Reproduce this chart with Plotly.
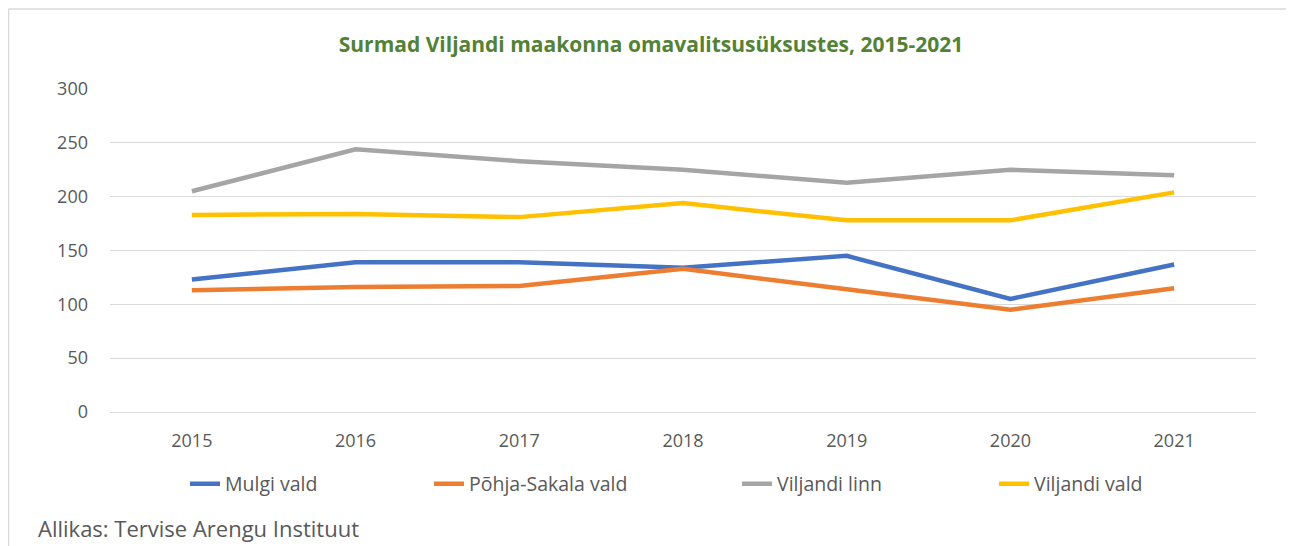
import plotly.graph_objects as go

years = ["2015", "2016", "2017", "2018", "2019", "2020", "2021"]
mulgi_vald = [123, 139, 139, 134, 145, 105, 137]
pohja_sakala_vald = [113, 116, 117, 133, 114, 95, 115]
viljandi_linn = [205, 244, 233, 225, 213, 225, 220]
viljandi_vald = [183, 184, 181, 194, 178, 178, 204]

series_names = ["Mulgi vald", "Põhja-Sakala vald", "Viljandi linn", "Viljandi vald"]
series_values = [mulgi_vald, pohja_sakala_vald, viljandi_linn, viljandi_vald]
colors = ["#4472C4", "#ED7D31", "#A5A5A5", "#FFC000"]
legend_ids = ["legend", "legend2", "legend3", "legend4"]

OFF = 8  # page body margin
W, H = 1294 - OFF, 546 - OFF
L, R, T, B = 102, 38, 81, 134
pw = W - L - R
ph = H - T - B

def px_x(px):
    return (px - OFF - L) / pw

def px_y(py):
    return (H - B - (py - OFF)) / ph

FONT = "Open Sans"
TXT = "#595959"

fig = go.Figure()
for name, vals, col, lg in zip(series_names, series_values, colors, legend_ids):
    fig.add_trace(go.Scatter(x=years, y=vals, name=name, mode="lines",
                             line=dict(color=col, width=4.5), legend=lg))

legend_text_starts = [225, 469, 777, 1034]
leg_common = dict(orientation="h", yanchor="middle", xanchor="left",
                  font=dict(family=FONT, size=19.5, color=TXT),
                  bgcolor="rgba(0,0,0,0)", borderwidth=0)
layout_legends = {}
for lg, ts in zip(legend_ids, legend_text_starts):
    layout_legends[lg] = dict(x=px_x(ts - 40), y=px_y(484), **leg_common)

fig.update_layout(
    width=W, height=H,
    margin=dict(l=L, r=R, t=T, b=B),
    paper_bgcolor="white", plot_bgcolor="white",
    font=dict(family=FONT, size=18, color=TXT),
    title=dict(text="<b>Surmad Viljandi maakonna omavalitsusüksustes, 2015-2021</b>",
               x=0.5, xanchor="center", xref="container",
               y=1 - (45 - OFF) / H, yanchor="middle", yref="container",
               font=dict(family=FONT, size=21, color="#548235")),
    xaxis=dict(type="category", range=[-0.5, 6.5], showgrid=False, showline=False,
               zeroline=False, ticks="outside", ticklen=0, ticklabelstandoff=12,
               tickfont=dict(family=FONT, size=18, color=TXT)),
    yaxis=dict(range=[0, 300], dtick=50, showgrid=True, gridcolor="#D9D9D9", gridwidth=1,
               zeroline=True, zerolinecolor="#D9D9D9", zerolinewidth=1, showline=False,
               ticks="", ticklabelstandoff=21,
               tickfont=dict(family=FONT, size=18, color=TXT)),
    showlegend=True,
    **layout_legends,
)

fig.add_annotation(text="Allikas: Tervise Arengu Instituut", xref="paper", yref="paper",
                   x=px_x(36), y=px_y(528), xanchor="left", yanchor="middle",
                   showarrow=False, font=dict(family=FONT, size=22, color=TXT))

# outer chart border (top and left visible)
fig.add_shape(type="line", xref="paper", yref="paper",
              x0=px_x(8.5), x1=px_x(1300), y0=px_y(9), y1=px_y(9),
              line=dict(color="#D9D9D9", width=1.5))
fig.add_shape(type="line", xref="paper", yref="paper",
              x0=px_x(8.5), x1=px_x(8.5), y0=px_y(9), y1=px_y(560),
              line=dict(color="#D9D9D9", width=1.5))

fig.write_html("out.html")
